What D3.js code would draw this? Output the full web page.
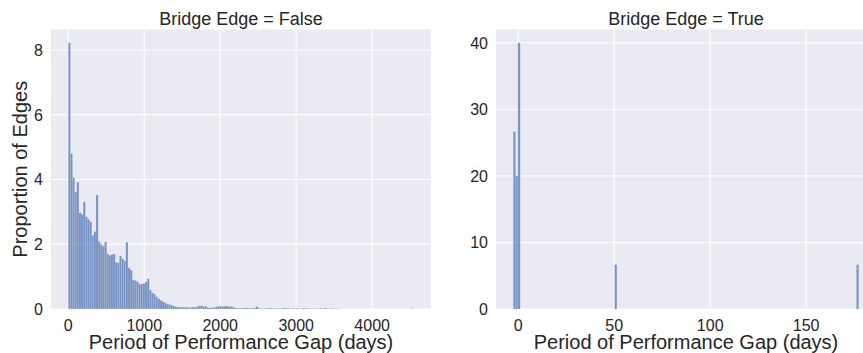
<!DOCTYPE html>
<html>
<head>
<meta charset="utf-8">
<script src="https://cdn.jsdelivr.net/npm/d3@7"></script>
<style>
  body { margin: 0; background: #fff; }
  text { font-family: "Liberation Sans", Arial, sans-serif; fill: #262626; }
</style>
</head>
<body>
<div id="vis"></div>
<script>
// panel titles and axis text
var panelTitles = ["Bridge Edge = False", "Bridge Edge = True"];
var xLabel = "Period of Performance Gap (days)";
var yLabel = "Proportion of Edges";

// left panel: percent per bin, bins start at 0 (days)
var leftBinStart = 0;
var leftBinWidth = 28.07;
var leftPercent = [
  8.22, 4.80, 4.06, 3.62, 3.92, 2.97, 2.93, 3.31, 2.85, 2.77,
  2.70, 2.28, 2.39, 3.52, 2.08, 2.00, 1.94, 2.07, 1.70, 1.66,
  1.68, 1.70, 1.44, 1.43, 1.64, 1.55, 1.49, 2.06, 1.27, 1.20,
  0.90, 0.88, 0.84, 0.77, 0.77, 0.79, 0.84, 0.93, 0.59, 0.50,
  0.46, 0.38, 0.32, 0.26, 0.23, 0.19, 0.15, 0.14, 0.12, 0.09,
  0.07, 0.06, 0.05, 0.06, 0.05, 0.06, 0.04, 0.05, 0.06, 0.05,
  0.08, 0.09, 0.10, 0.08, 0.09, 0.04, 0.03, 0.04, 0.05, 0.07,
  0.08, 0.09, 0.08, 0.08, 0.09, 0.07, 0.08, 0.06, 0.03, 0.03,
  0.02, 0.03, 0.03, 0.04, 0.03, 0.02, 0.03, 0.03, 0.07, 0.02,
  0.02, 0.01, 0.02, 0.02, 0.03, 0.02, 0.01, 0.02, 0.02, 0.01,
  0.02, 0.03, 0.02, 0.02, 0.01, 0.02, 0.01, 0.02, 0.01, 0.01,
  0.03, 0.01, 0.02, 0.01, 0.01, 0.02, 0.01, 0.01, 0.02, 0.01,
  0.03, 0.01, 0.01, 0.02, 0.01, 0.01, 0.01, 0, 0, 0,
  0, 0, 0, 0, 0, 0, 0, 0, 0, 0,
  0, 0, 0, 0, 0, 0, 0, 0, 0, 0,
  0, 0, 0, 0, 0, 0, 0, 0, 0, 0,
  0, 0.01
];
var leftXTicks = [0, 1000, 2000, 3000, 4000];
var leftYTicks = [0, 2, 4, 6, 8];

// right panel: bin starts (days) and percent
var rightBinWidth = 1.2;
var rightBinStarts = [-2.6, -1.4, -0.2, 50.2, 176.2];
var rightPercent = [26.67, 20.0, 40.0, 6.67, 6.67];
var rightXTicks = [0, 50, 100, 150];
var rightYTicks = [0, 10, 20, 30, 40];

var w = 863, h = 353;
var plotTop = 29.5, plotBottom = 309, panelW = 380;

var svg = d3.select("#vis")
  .append("svg")
  .attr("width", w)
  .attr("height", h);

function pad(lo, hi) {
  var r = hi - lo;
  return [lo - 0.05 * r, hi + 0.05 * r];
}

var leftBins = leftPercent.map(function(v, i) {
  return { x0: leftBinStart + i * leftBinWidth, x1: leftBinStart + (i + 1) * leftBinWidth, v: v };
});
var rightBins = rightPercent.map(function(v, i) {
  return { x0: rightBinStarts[i], x1: rightBinStarts[i] + rightBinWidth, v: v };
});

function drawPanel(opt) {
  var x = d3.scaleLinear().domain(opt.xDomain).range([opt.left, opt.left + panelW]);
  var y = d3.scaleLinear().domain([0, opt.yMax * 1.05]).range([plotBottom, plotTop]);

  var g = svg.append("g");

  g.append("rect")
    .attr("x", opt.left)
    .attr("y", plotTop)
    .attr("width", panelW)
    .attr("height", plotBottom - plotTop)
    .attr("fill", "#eaeaf2");

  // grid
  g.selectAll(".gx")
    .data(opt.xTicks)
    .enter()
    .append("line")
    .attr("x1", function(d) { return x(d); })
    .attr("x2", function(d) { return x(d); })
    .attr("y1", plotTop)
    .attr("y2", plotBottom)
    .attr("stroke", "#fff")
    .attr("stroke-width", 1);

  g.selectAll(".gy")
    .data(opt.yTicks)
    .enter()
    .append("line")
    .attr("x1", opt.left)
    .attr("x2", opt.left + panelW)
    .attr("y1", function(d) { return y(d); })
    .attr("y2", function(d) { return y(d); })
    .attr("stroke", "#fff")
    .attr("stroke-width", 1);

  // bars
  g.selectAll(".bar")
    .data(opt.bins.filter(function(d) { return d.v > 0; }))
    .enter()
    .append("rect")
    .attr("x", function(d) { return x(d.x0); })
    .attr("y", function(d) { return y(d.v); })
    .attr("width", function(d) { return x(d.x1) - x(d.x0); })
    .attr("height", function(d) { return y(0) - y(d.v); })
    .attr("fill", "#4c72b0")
    .attr("fill-opacity", 0.72)
    .attr("stroke", "#eaeaf2")
    .attr("stroke-opacity", 0.5)
    .attr("stroke-width", 0.3);

  // tick labels
  g.selectAll(".tx")
    .data(opt.xTicks)
    .enter()
    .append("text")
    .attr("x", function(d) { return x(d); })
    .attr("y", 330.5)
    .attr("text-anchor", "middle")
    .style("font-size", "16px")
    .text(function(d) { return d; });

  g.selectAll(".ty")
    .data(opt.yTicks)
    .enter()
    .append("text")
    .attr("x", opt.left - 8)
    .attr("y", function(d) { return y(d) + 6; })
    .attr("text-anchor", "end")
    .style("font-size", "16px")
    .text(function(d) { return d; });

  g.append("text")
    .attr("x", opt.left + panelW / 2)
    .attr("y", 24.5)
    .attr("text-anchor", "middle")
    .style("font-size", "18px")
    .text(opt.title);

  g.append("text")
    .attr("x", opt.left + panelW / 2)
    .attr("y", 349)
    .attr("text-anchor", "middle")
    .style("font-size", "20px")
    .text(xLabel);
}

drawPanel({
  left: 51,
  xDomain: pad(0, leftBinStart + leftBins.length * leftBinWidth),
  yMax: d3.max(leftPercent),
  xTicks: leftXTicks,
  yTicks: leftYTicks,
  bins: leftBins,
  title: panelTitles[0]
});

drawPanel({
  left: 496,
  xDomain: pad(rightBinStarts[0], rightBinStarts[rightBinStarts.length - 1] + rightBinWidth),
  yMax: d3.max(rightPercent),
  xTicks: rightXTicks,
  yTicks: rightYTicks,
  bins: rightBins,
  title: panelTitles[1]
});

svg.append("text")
  .attr("transform", "translate(27," + ((plotTop + plotBottom) / 2) + ") rotate(-90)")
  .attr("text-anchor", "middle")
  .style("font-size", "20px")
  .text(yLabel);
</script>
</body>
</html>
